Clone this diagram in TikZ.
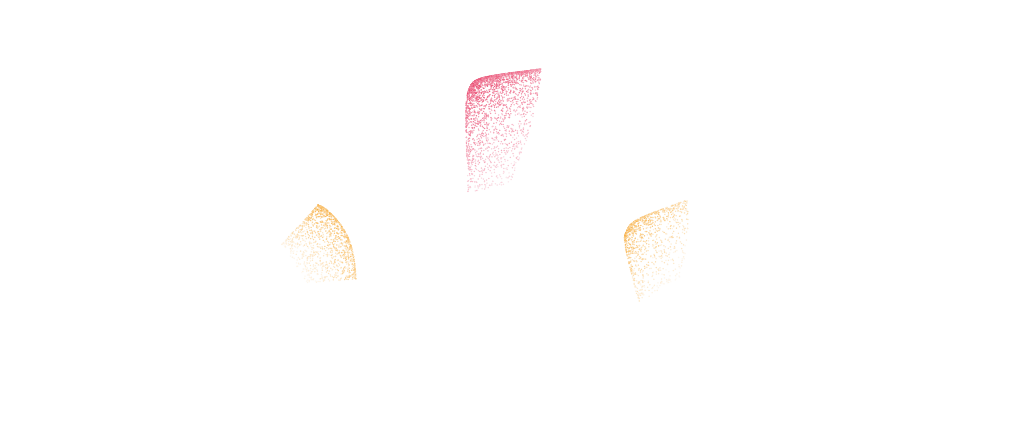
\documentclass[tikz,border=0pt]{standalone}
\usepackage{tikz}
\definecolor{dotred}{RGB}{232,48,92}
\definecolor{dotorange}{RGB}{248,168,48}

\begin{document}
\begin{tikzpicture}[x=1pt,y=-1pt]
        \useasboundingbox[fill=white] (0,0) rectangle (1024,446);
        \pgfmathsetseed{11}

        % Nuage rouge (haut)
        \foreach \i in {1,...,2800}{
          \pgfmathsetmacro{\u}{(0.001+0.999*rnd)^1.5}
          \pgfmathsetmacro{\v}{(0.001+0.999*rnd)^3.2}
          \pgfmathsetmacro{\k}{7*exp(-8*(\u+\v))}
          \pgfmathtruncatemacro{\p}{(45+55*rnd)*(1-0.7*\v)*(1-0.35*\u)}
          \pgfmathsetmacro{\px}{464+77*\u*(1-0.45*\v^1.5)+4*\v+\k}
          \pgfmathsetmacro{\py}{79-10*\u+114*\v+\k}
          \fill[dotred!\p!white] (\px,\py) circle (0.75);
        }

        % Nuage orange (gauche)
        \foreach \i in {1,...,1300}{
          \pgfmathsetmacro{\u}{(0.001+0.999*rnd)^1.3}
          \pgfmathsetmacro{\v}{(0.001+0.999*rnd)^2.4}
          \pgfmathsetmacro{\b}{11*sin(180*\u)*(1-\v)}
          \pgfmathtruncatemacro{\p}{(30+70*rnd)*(1-0.8*\v)*(1-0.35*\u)}
          \pgfmathsetmacro{\px}{318+38*\u+0.9*\b+\v*(-37-12*\u)}
          \pgfmathsetmacro{\py}{201+78*\u-0.44*\b+\v*(40-36*\u)+4*exp(-12*\u)}
          \fill[dotorange!\p!white] (\px,\py) circle (0.75);
        }

        % Nuage orange (droite)
        \foreach \i in {1,...,1200}{
          \pgfmathsetmacro{\u}{(0.001+0.999*rnd)^1.9}
          \pgfmathsetmacro{\v}{(0.001+0.999*rnd)^2.5}
          \pgfmathsetmacro{\k}{7*exp(-8*(\u+\v))}
          \pgfmathtruncatemacro{\p}{(30+70*rnd)*(1-0.75*\v)*(1-0.5*\u)}
          \pgfmathsetmacro{\px}{619+68*\u*(1-0.4*\v^1.5)+20*\v+1.2*\k}
          \pgfmathsetmacro{\py}{225-25*\u+78*\v+\k}
          \fill[dotorange!\p!white] (\px,\py) circle (0.75);
        }
    \end{tikzpicture}
\end{document}
